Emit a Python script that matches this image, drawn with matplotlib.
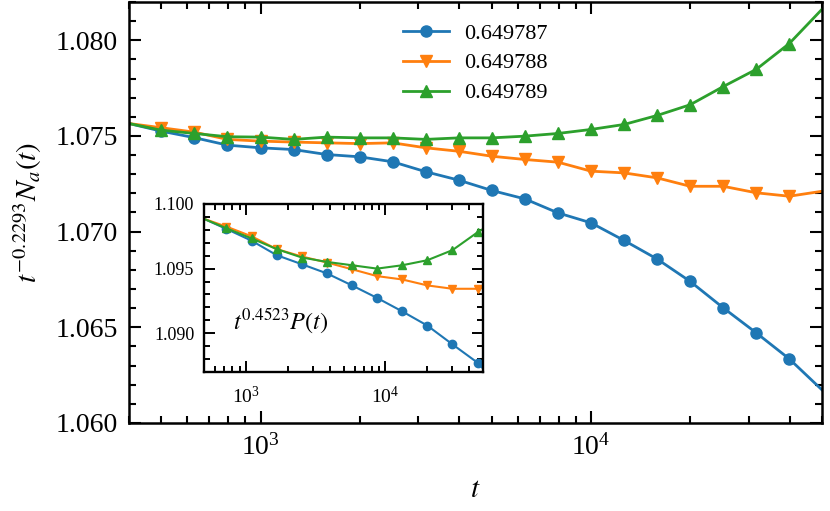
import matplotlib
matplotlib.use("Agg")
import matplotlib.pyplot as plt
from matplotlib.ticker import MultipleLocator, FormatStrFormatter, NullFormatter

plt.rcParams['font.family'] = ['Liberation Serif', 'DejaVu Serif']
plt.rcParams['mathtext.fontset'] = 'stix'

# ---------------- data ----------------
labels = ["0.649787", "0.649788", "0.649789"]
colors = ["#1f77b4", "#ff7f0e", "#2ca02c"]
markers = ["o", "v", "^"]

t_main = [400, 501, 631, 794, 1000, 1259, 1585, 1995, 2512, 3162, 3981,
          5012, 6310, 7943, 10000, 12589, 15849, 19953, 25119, 31623, 39811, 50000]
na_787 = [1.07565, 1.07525, 1.07491, 1.07452, 1.07438, 1.07429, 1.07403, 1.07391,
          1.07365, 1.07313, 1.07269, 1.07215, 1.07171, 1.07098, 1.07046, 1.06954,
          1.06857, 1.06740, 1.06602, 1.06471, 1.06335, 1.06173]
na_788 = [1.07565, 1.07543, 1.07520, 1.07482, 1.07473, 1.07468, 1.07464, 1.07460,
          1.07464, 1.07438, 1.07420, 1.07394, 1.07377, 1.07363, 1.07316, 1.07307,
          1.07281, 1.07237, 1.07237, 1.07203, 1.07185, 1.07211]
na_789 = [1.07565, 1.07530, 1.07513, 1.07496, 1.07494, 1.07482, 1.07494, 1.07490,
          1.07490, 1.07482, 1.07490, 1.07490, 1.07499, 1.07513, 1.07534, 1.07560,
          1.07607, 1.07663, 1.07758, 1.07848, 1.07983, 1.08162]

t_inset = [500, 724, 1096, 1660, 2512, 3802, 5754, 8710, 13183, 19953, 30200, 45709, 50000]
p_787 = [1.09885, 1.09807, 1.09716, 1.09604, 1.09534, 1.09463, 1.09370, 1.09273,
         1.09169, 1.09059, 1.08914, 1.08772, 1.08727]
p_788 = [1.09885, 1.09825, 1.09750, 1.09651, 1.09594, 1.09547, 1.09495, 1.09442,
         1.09416, 1.09370, 1.09344, 1.09344, 1.09352]
p_789 = [1.09885, 1.09812, 1.09734, 1.09651, 1.09586, 1.09552, 1.09526, 1.09500,
         1.09526, 1.09565, 1.09643, 1.09781, 1.09807]

main_series = [na_787, na_788, na_789]
inset_series = [p_787, p_788, p_789]

# ---------------- figure ----------------
W, H = 830, 511
fig = plt.figure(figsize=(W / 100, H / 100), dpi=100)

def px_axes(x0, y0, x1, y1):
    return fig.add_axes([x0 / W, 1 - y1 / H, (x1 - x0) / W, (y1 - y0) / H])

ax = px_axes(129, 2, 822, 423)
for ys, c, m, lab in zip(main_series, colors, markers, labels):
    ax.plot(t_main, ys, color=c, marker=m, ms=8, lw=2.0,
            markevery=slice(1, -1), label=lab)
ax.set_xscale('log')
ax.set_xlim(400, 50000)
ax.set_ylim(1.060, 1.082)
ax.yaxis.set_major_locator(MultipleLocator(0.005))
ax.yaxis.set_minor_locator(MultipleLocator(0.001))
ax.yaxis.set_major_formatter(FormatStrFormatter('%.3f'))
ax.xaxis.set_minor_formatter(NullFormatter())
ax.tick_params(which='both', direction='in', top=True, right=True, width=1.5)
ax.tick_params(which='major', length=8.5, labelsize=20, pad=8)
ax.tick_params(which='minor', length=5)
for s in ax.spines.values():
    s.set_linewidth(1.8)
ax.set_xlabel(r'$t$', fontsize=21, labelpad=12)
ax.set_ylabel(r'$t^{-0.2293}N_a(t)$', fontsize=21, labelpad=8)

leg = ax.legend(loc='upper left', bbox_to_anchor=(0.395, 0.95), frameon=False,
                fontsize=16, borderpad=0, borderaxespad=0, handlelength=2.1,
                handletextpad=0.65, labelspacing=0.42, numpoints=1)

# ---------------- inset ----------------
axi = px_axes(204, 204, 483, 372)
for ys, c, m in zip(inset_series, colors, markers):
    axi.plot(t_inset, ys, color=c, marker=m, ms=6, lw=1.5,
             markevery=slice(1, -1))
axi.set_xscale('log')
axi.set_xlim(500, 50000)
axi.set_ylim(1.087, 1.100)
axi.yaxis.set_major_locator(MultipleLocator(0.005))
axi.yaxis.set_minor_locator(MultipleLocator(0.001))
axi.yaxis.set_major_formatter(FormatStrFormatter('%.3f'))
axi.xaxis.set_minor_formatter(NullFormatter())
axi.tick_params(which='both', direction='in', top=True, right=True, width=1.4)
axi.tick_params(axis='y', which='major', length=8, labelsize=13, pad=7)
axi.tick_params(axis='x', which='major', length=8, labelsize=14, pad=10)
axi.tick_params(which='minor', length=4.5)
for s in axi.spines.values():
    s.set_linewidth(1.7)
axi.text(0.105, 0.30, r'$t^{0.4523}P(t)$', transform=axi.transAxes,
         fontsize=17.5, va='center', ha='left')

fig.savefig('out.png', dpi=100)
